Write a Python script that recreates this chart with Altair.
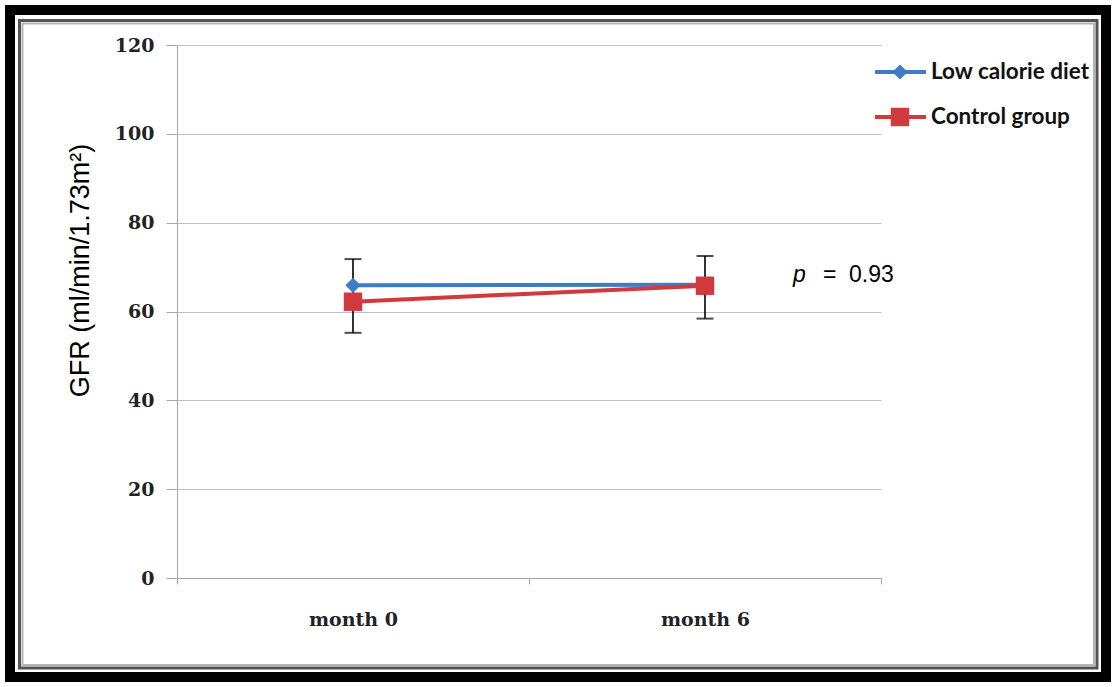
import altair as alt
import pandas as pd

# GFR means per visit and the whisker extent drawn at each visit
months = ["month 0", "month 6"]
low_calorie = [65.9, 66.0]
control = [62.2, 65.8]
err_low = [55.2, 58.4]
err_high = [71.8, 72.5]

series_names = ["Low calorie diet", "Control group"]
series_colors = ["#3f7bc6", "#d03a3c"]
series_shapes = ["diamond", "square"]
series_sizes = [230, 340]

W, H = 704, 533
ORIGIN_X, ORIGIN_Y = 177, 45

rows = []
for name, vals in zip(series_names, [low_calorie, control]):
    for m, v in zip(months, vals):
        rows.append({"month": m, "gfr": v, "series": name})
df = pd.DataFrame(rows)
err_df = pd.DataFrame({"month": months, "lo": err_low, "hi": err_high})

x_scale = alt.Scale(type="band", domain=months, paddingInner=0, paddingOuter=0)
x_enc = alt.X(
    "month:N",
    sort=months,
    scale=x_scale,
    axis=alt.Axis(
        title=None,
        tickBand="extent",
        labelAngle=0,
        labelAlign="center",
        labelFont="DejaVu Serif",
        labelFontWeight="bold",
        labelFontSize=19,
        labelColor="#222222",
        labelPadding=35,
        tickColor="#a6a6a6",
        tickSize=6,
        domainColor="#a6a6a6",
        grid=False,
    ),
)
y_scale = alt.Scale(domain=[0, 120], nice=False, zero=True)
y_enc = alt.Y(
    "gfr:Q",
    scale=y_scale,
    axis=alt.Axis(
        title="GFR (ml/min/1.73m²)",
        titleFont="Liberation Sans",
        titleFontWeight="normal",
        titleFontSize=27,
        titleColor="#000000",
        titlePadding=20,
        titleY=225,
        titleAlign="center",
        values=[0, 20, 40, 60, 80, 100, 120],
        labelFont="DejaVu Serif",
        labelFontWeight="bold",
        labelFontSize=19,
        labelColor="#222222",
        labelPadding=12,
        tickSize=11,
        tickColor="#a6a6a6",
        domainColor="#a6a6a6",
        gridColor="#c0c0c0",
        gridWidth=1.2,
    ),
)

# decorative frame around the whole figure
one_row = pd.DataFrame({"k": [0]})
frame_outer = alt.Chart(one_row).mark_rect(
    fill=None, stroke="#000000", strokeWidth=10
).encode(
    x=alt.value(10 - ORIGIN_X), x2=alt.value(1106 - ORIGIN_X),
    y=alt.value(10 - ORIGIN_Y), y2=alt.value(677 - ORIGIN_Y),
)
frame_white = alt.Chart(one_row).mark_rect(
    fill=None, stroke="#ffffff", strokeWidth=1.5
).encode(
    x=alt.value(16 - ORIGIN_X), x2=alt.value(1100 - ORIGIN_X),
    y=alt.value(17 - ORIGIN_Y), y2=alt.value(671 - ORIGIN_Y),
)
frame_inner = alt.Chart(one_row).mark_rect(
    fill=None, stroke="#555555", strokeWidth=3
).encode(
    x=alt.value(19.5 - ORIGIN_X), x2=alt.value(1097 - ORIGIN_X),
    y=alt.value(20.5 - ORIGIN_Y), y2=alt.value(668 - ORIGIN_Y),
)
frame_shade = alt.Chart(one_row).mark_rect(
    fill=None, stroke="#b5b5b5", strokeWidth=2
).encode(
    x=alt.value(22.5 - ORIGIN_X), x2=alt.value(1094 - ORIGIN_X),
    y=alt.value(23.5 - ORIGIN_Y), y2=alt.value(665 - ORIGIN_Y),
)

base = alt.Chart(df)

err_rule = alt.Chart(err_df).mark_rule(color="#000000", strokeWidth=1.6).encode(
    x=alt.X("month:N", sort=months, scale=x_scale),
    y=alt.Y("lo:Q", scale=y_scale),
    y2="hi:Q",
)
err_cap_lo = alt.Chart(err_df).mark_tick(
    color="#000000", thickness=2, size=17, orient="horizontal"
).encode(x=alt.X("month:N", sort=months, scale=x_scale), y=alt.Y("lo:Q", scale=y_scale))
err_cap_hi = alt.Chart(err_df).mark_tick(
    color="#000000", thickness=2, size=17, orient="horizontal"
).encode(x=alt.X("month:N", sort=months, scale=x_scale), y=alt.Y("hi:Q", scale=y_scale))

layers = [frame_outer, frame_white, frame_inner, frame_shade, err_rule, err_cap_lo, err_cap_hi]

for name, color, shape, size in zip(series_names, series_colors, series_shapes, series_sizes):
    sub = base.transform_filter(alt.datum.series == name)
    layers.append(sub.mark_line(color=color, strokeWidth=4).encode(x=x_enc, y=y_enc))
    layers.append(
        sub.mark_point(shape=shape, filled=True, color=color, size=size, opacity=1).encode(
            x=x_enc, y=y_enc
        )
    )

# legend drawn beside the plot
leg_y = [72 - ORIGIN_Y, 117 - ORIGIN_Y]
for i, (name, color, shape, size) in enumerate(zip(series_names, series_colors, series_shapes, series_sizes)):
    one = alt.Chart(pd.DataFrame({"series": [name]}))
    layers.append(
        one.mark_rule(color=color, strokeWidth=4).encode(
            x=alt.value(875 - ORIGIN_X), x2=alt.value(926 - ORIGIN_X), y=alt.value(leg_y[i])
        )
    )
    layers.append(
        one.mark_point(shape=shape, filled=True, color=color, size=size, opacity=1).encode(
            x=alt.value(900 - ORIGIN_X), y=alt.value(leg_y[i])
        )
    )
    layers.append(
        one.mark_text(
            align="left", baseline="middle", font="Lato", fontWeight="bold", fontSize=22.5, color="#111111"
        ).encode(x=alt.value(931 - ORIGIN_X), y=alt.value(leg_y[i]), text="series:N")
    )

# significance annotation: italic p, then "=" and the value
p_font = dict(baseline="middle", font="Liberation Sans", fontSize=23, color="#000000", align="left")
p_part = alt.Chart(pd.DataFrame({"t": ["p"]})).mark_text(fontStyle="italic", **p_font).encode(
    x=alt.value(793 - ORIGIN_X), y=alt.value(275 - ORIGIN_Y), text="t:N"
)
p_eq = alt.Chart(pd.DataFrame({"t": ["="]})).mark_text(**p_font).encode(
    x=alt.value(823 - ORIGIN_X), y=alt.value(275 - ORIGIN_Y), text="t:N"
)
p_val = alt.Chart(pd.DataFrame({"t": ["0.93"]})).mark_text(**p_font).encode(
    x=alt.value(849 - ORIGIN_X), y=alt.value(275 - ORIGIN_Y), text="t:N"
)
layers += [p_part, p_eq, p_val]

chart = (
    alt.layer(*layers)
    .properties(
        width=W,
        height=H,
        autosize=alt.AutoSizeParams(type="none"),
        padding={"left": ORIGIN_X, "top": ORIGIN_Y, "right": 1116 - ORIGIN_X - W, "bottom": 687 - ORIGIN_Y - H},
        background="#ffffff",
    )
    .configure_view(stroke=None)
)

chart.save("out.html", embed_options={"renderer": "svg", "actions": False})
